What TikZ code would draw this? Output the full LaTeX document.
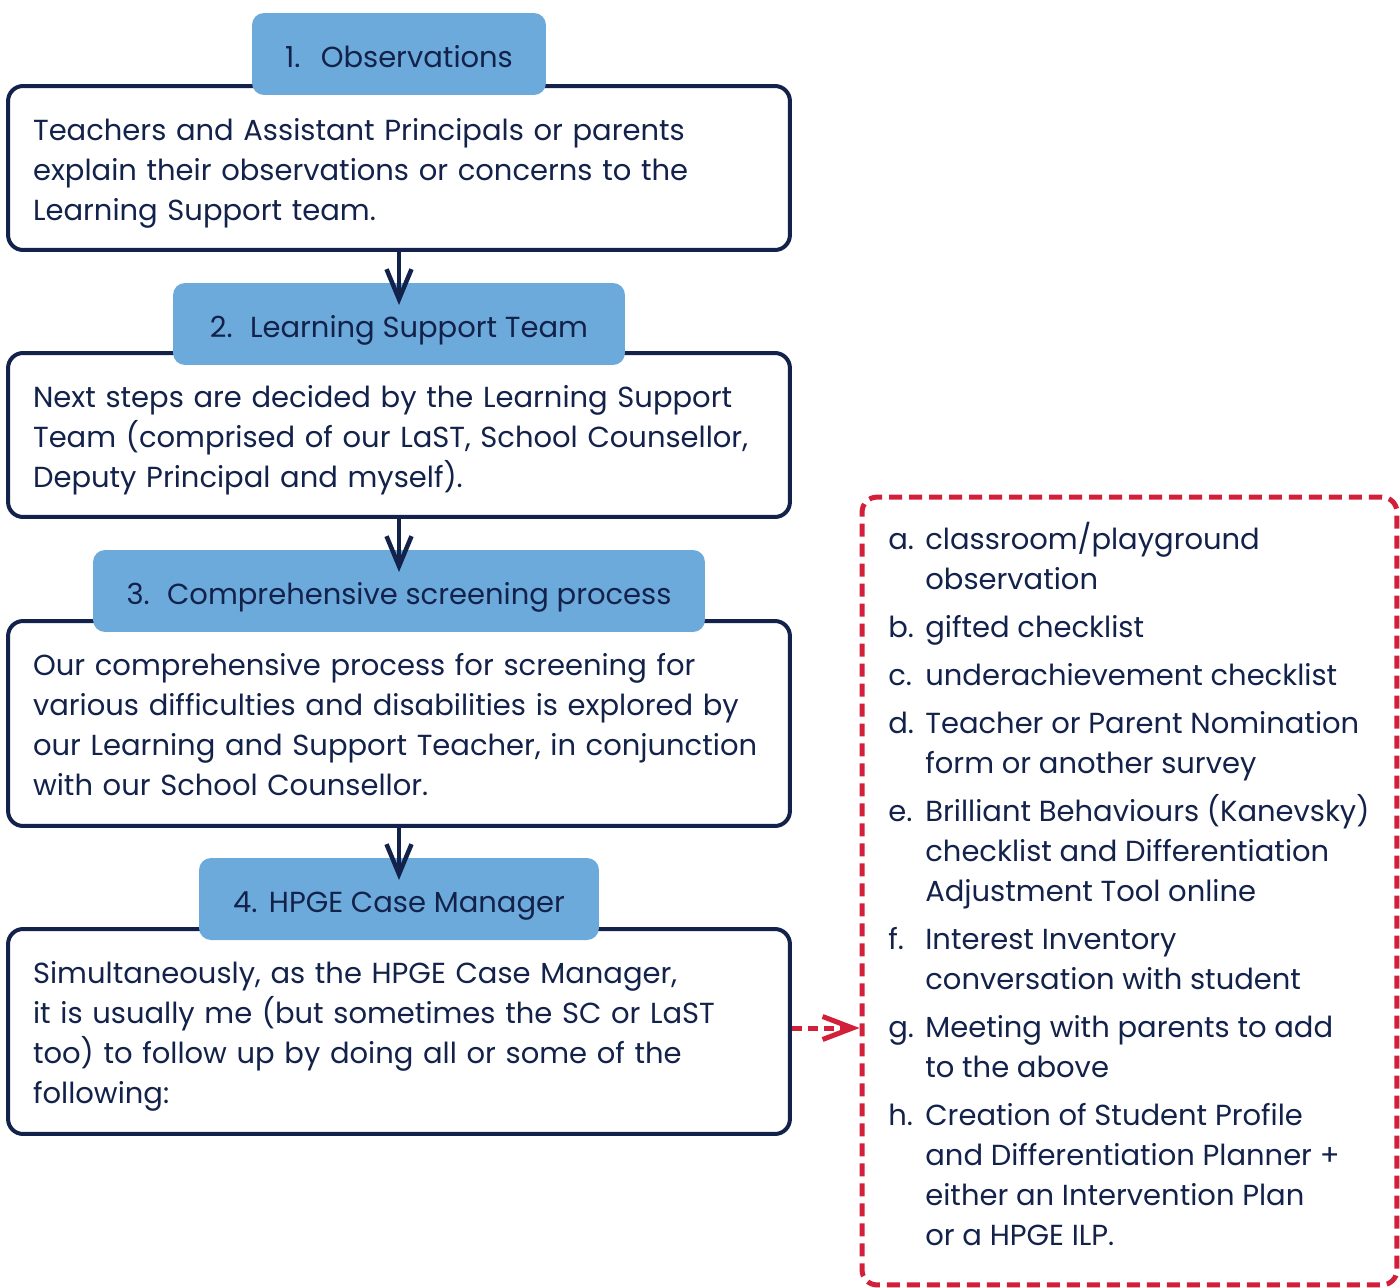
\documentclass[tikz,border=0pt]{standalone}
\usepackage{fontspec}
\setmainfont{Poppins}
\usepackage{tikz}
\usetikzlibrary{arrows.meta,positioning}
\definecolor{navy}{HTML}{13224A}
\definecolor{stepblue}{HTML}{6CAADC}
\definecolor{alertred}{HTML}{D2203A}
\newcommand{\bodyfont}{\fontsize{16.5}{22.76}\selectfont}

\tikzset{
  bodybox/.style={draw=navy, line width=0.08cm, rounded corners=0.3cm, fill=white, text=navy,
    text width=14.64cm, inner xsep=0.5cm, inner ysep=0pt, align=left, font=\bodyfont,
    execute at begin node={\rule{0pt}{18.8pt}}, execute at end node={\rule[-5pt]{0pt}{5pt}}},
  headbox/.style={fill=stepblue, rounded corners=0.24cm, text=navy, minimum height=1.64cm,
    inner sep=0pt, font=\bodyfont, text height=18pt, text depth=3pt},
  flowarrow/.style={navy, line width=0.09cm, -{Straight Barb[length=0.6cm,width=0.5cm]}, shorten >=0.38cm},
  linkarrow/.style={alertred, line width=0.1cm, dash pattern=on 0.2cm off 0.12cm,
    -{Straight Barb[length=0.6cm,width=0.46cm]}},
  checkframe/.style={draw=alertred, line width=0.1cm, dash pattern=on 0.26cm off 0.14cm,
    rounded corners=0.3cm, inner sep=0pt}
}

\begin{document}
\begin{tikzpicture}[x=0.02cm,y=-0.02cm]
\useasboundingbox (0,0) rectangle (1400,1288);

% steps on the left
\node[bodybox, minimum height=3.28cm] (box1) at (399,168) {Teachers and Assistant Principals or parents\\
explain their observations or concerns to the\\
Learning Support team.};
\node[headbox, minimum width=5.88cm] (hdr1) at (399,54) {1.\hspace{0.7em}Observations};

\node[bodybox, minimum height=3.28cm] (box2) at (399,435) {Next steps are decided by the Learning Support\\
Team (comprised of our LaST, School Counsellor,\\
Deputy Principal and myself).};
\node[headbox, minimum width=9.04cm] (hdr2) at (399,324) {2.\hspace{0.6em}Learning Support Team};

\node[bodybox, minimum height=4.1cm] (box3) at (399,723.5) {Our comprehensive process for screening for\\
various difficulties and disabilities is explored by\\
our Learning and Support Teacher, in conjunction\\
with our School Counsellor.};
\node[headbox, minimum width=12.24cm] (hdr3) at (399,591) {3.\hspace{0.6em}Comprehensive screening process};

\node[bodybox, minimum height=4.1cm] (box4) at (399,1031.5) {Simultaneously, as the HPGE Case Manager,\\
it is usually me (but sometimes the SC or LaST\\
too) to follow up by doing all or some of the\\
following:};
\node[headbox, minimum width=8cm] (hdr4) at (399,899) {4.\hspace{0.4em}HPGE Case Manager};

% list on the right
\node[checkframe, minimum width=10.7cm, minimum height=15.76cm] (checks) at (1129.5,891) {};
\node[anchor=north west, inner sep=0pt, text=navy, font=\bodyfont] (checklist) at (888,521) {%
\begin{tabular}{@{}p{0.74cm}@{}l@{}}
a. & classroom/playground\\
   & observation\\[0.16cm]
b. & gifted checklist\\[0.16cm]
c. & underachievement checklist\\[0.16cm]
d. & Teacher or Parent Nomination\\
   & form or another survey\\[0.16cm]
e. & Brilliant Behaviours (Kanevsky)\\
   & checklist and Differentiation\\
   & Adjustment Tool online\\[0.16cm]
f. & Interest Inventory\\
   & conversation with student\\[0.16cm]
g. & Meeting with parents to add\\
   & to the above\\[0.16cm]
h. & Creation of Student Profile\\
   & and Differentiation Planner +\\
   & either an Intervention Plan\\
   & or a HPGE ILP.
\end{tabular}};

% connectors
\draw[flowarrow] (box1.south) -- (hdr2.center);
\draw[flowarrow] (box2.south) -- (hdr3.center);
\draw[flowarrow] (box3.south) -- (hdr4.center);
\draw[linkarrow] ([yshift=0.07cm]box4.east) -- ([yshift=0.07cm]box4.east -| checks.west);
\end{tikzpicture}
\end{document}
